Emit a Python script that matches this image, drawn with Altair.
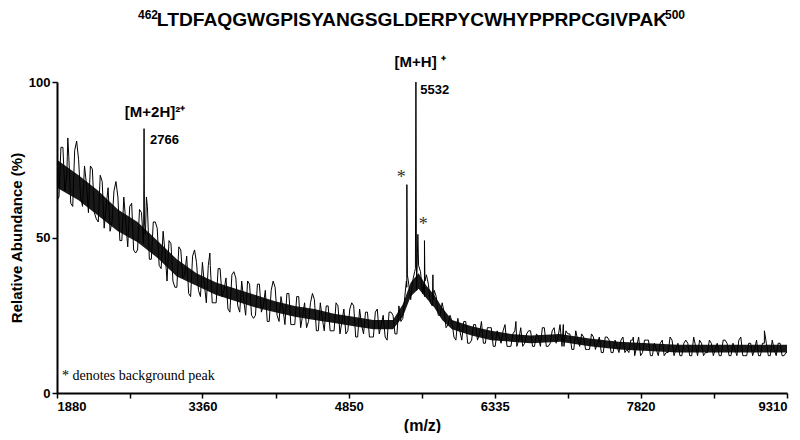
import altair as alt
import pandas as pd

# ---- data ----
# noise trace sampled every 20 m/z: series A at 1880+40i, series B at 1900+40i
NOISE_STEP = 40
A_START = 1880
noise_a = [
    62, 79, 65, 76, 60, 81, 63, 73, 58, 72,
    56, 70, 53, 66, 55, 68, 49, 63, 47, 61,
    45, 59, 48, 60, 43, 55, 41, 52, 36, 48,
    34, 47, 37, 44, 31, 46, 33, 42, 29, 41,
    29, 40, 31, 37, 26, 39, 28, 36, 25, 35,
    24, 35, 26, 33, 23, 36, 25, 31, 22, 32,
    22, 31, 21, 29, 23, 32, 20, 29, 20, 28,
    20, 29, 19, 27, 20, 29, 18, 27, 19, 26,
    18, 26, 19, 25, 17, 26, 19, 28, 24, 34,
    30, 39, 41, 32, 38, 29, 33, 25, 29, 21,
    25, 18, 24, 17, 23, 16, 22, 17, 23, 16,
    21, 15, 20, 16, 22, 15, 19, 15, 21, 16,
    20, 15, 19, 15, 21, 15, 20, 16, 22, 15,
    19, 14, 20, 15, 18, 14, 19, 14, 18, 13,
    18, 13, 17, 13, 18, 14, 17, 12, 18, 13,
    17, 12, 16, 12, 17, 13, 18, 12, 16, 12,
    17, 12, 18, 12, 16, 13, 17, 12, 16, 12,
    17, 12, 16, 12, 18, 12, 16, 12, 17, 12,
    16, 12, 17, 12, 16, 12,
]
B_START = 1900
noise_b = [
    63, 79, 70, 61, 78, 75, 60, 67, 73, 58,
    55, 68, 60, 52, 65, 63, 49, 55, 60, 46,
    46, 58, 51, 43, 55, 53, 40, 45, 49, 36,
    34, 46, 38, 32, 44, 42, 31, 35, 41, 29,
    29, 40, 33, 27, 38, 37, 26, 30, 36, 25,
    25, 35, 28, 23, 33, 34, 23, 27, 32, 22,
    22, 31, 25, 21, 29, 30, 20, 24, 28, 20,
    20, 28, 23, 19, 27, 28, 18, 22, 26, 18,
    18, 27, 22, 18, 26, 25, 19, 23, 31, 35,
    36, 33, 39, 31, 35, 28, 31, 25, 26, 22,
    23, 17, 20, 23, 16, 17, 22, 19, 16, 21,
    21, 15, 18, 20, 15, 15, 20, 17, 15, 19,
    20, 15, 18, 21, 15, 16, 21, 18, 15, 20,
    19, 14, 17, 19, 14, 14, 18, 16, 13, 18,
    17, 13, 15, 17, 13, 13, 17, 15, 12, 17,
    17, 12, 14, 16, 12, 13, 17, 14, 12, 16,
    16, 12, 15, 17, 12, 13, 16, 14, 12, 17,
    16, 12, 14, 17, 12, 12, 16, 14, 12, 16,
    16, 12, 14, 16, 12, 13,
]
noise_a_mz = [A_START + NOISE_STEP * i for i in range(len(noise_a))]
noise_b_mz = [B_START + NOISE_STEP * i for i in range(len(noise_b))]

spike_mz = [1990, 2762, 2766, 2770, 2790, 3436, 5436, 5441, 5446, 5528, 5533, 5538,
            5553, 5615, 5620, 5625, 5701, 5706, 5711, 6551, 7033, 7745, 9080, 9160, 9310]
spike_val = [82, 52, 85, 55, 63, 45, 36, 67, 38, 40, 100, 45,
             51, 35, 49, 36, 30, 38, 30, 23, 22, 18, 20, 17, 13]

core_mz = [1880, 2100, 2300, 2500, 2700, 2900, 3100, 3300, 3500, 3700, 3900, 4100, 4300,
           4500, 4700, 4900, 5100, 5300, 5400, 5480, 5560, 5640, 5720, 5800, 5900, 6100,
           6300, 6500, 6700, 7000, 7300, 7600, 7900, 8200, 8500, 8800, 9100, 9310]
core_lo = [66, 62, 57, 52, 48.5, 43.5, 37.5, 34.5, 31.5, 29.5, 27.5, 26, 24.5,
           23.5, 22.5, 21.5, 20.5, 20.5, 24.5, 31, 33.5, 30.5, 27.5, 23.5, 20.5, 18.5,
           17, 16.5, 16, 16.5, 15, 14, 13.5, 13, 13, 13, 13, 13]
core_hi = [75, 70, 65, 59, 55, 49, 43, 38.5, 35.5, 33.5, 31.5, 29.5, 28,
           27, 25.5, 24.5, 23.5, 23.5, 28.5, 35.5, 38.5, 34.5, 31.5, 27.5, 23.5, 21.5,
           20, 19, 18.5, 19, 17.5, 16.5, 16, 15.5, 15.5, 15.5, 15.5, 15.5]

major_ticks = [1880, 3360, 4850, 6335, 7820, 9310]
all_ticks = [1880, 2620, 3360, 4105, 4850, 5592, 6335, 7077, 7820, 8565, 9310]
y_ticks = [0, 50, 100]

title_main = "LTDFAQGWGPISYANGSGLDERPYCWHYPPRPCGIVPAK"
title_start = "462"
title_end = "500"

ann_mz = [2878, 2827, 5577, 5577]
ann_val = [90.4, 81.4, 106.4, 97.4]
ann_text = ["[M+2H]²⁺", "2766", "[M+H] ⁺", "5532"]
ann_size = [15, 13, 15, 13]

star_mz = [5383, 5607]
star_val = [70, 55]

note_mz = [1931]
note_val = [5.5]
note_text = ["* denotes background peak"]

# ---- tables ----
spec = pd.DataFrame({
    "mz": noise_a_mz + noise_b_mz + spike_mz,
    "val": noise_a + noise_b + spike_val,
}).sort_values("mz", kind="stable")
core = pd.DataFrame({"mz": core_mz, "lo": core_lo, "hi": core_hi})
ann = pd.DataFrame({"mz": ann_mz, "val": ann_val, "text": ann_text, "size": ann_size})
stars = pd.DataFrame({"mz": star_mz, "val": star_val, "text": ["*", "*"]})
note = pd.DataFrame({"mz": note_mz, "val": note_val, "text": note_text})

FONT = "Liberation Sans"
x_scale = alt.Scale(domain=[1880, 9310], nice=False, zero=False)
y_scale = alt.Scale(domain=[0, 100], nice=False)

label_expr = "indexof([" + ",".join(str(v) for v in major_ticks) + "], datum.value) >= 0 ? datum.label : ''"

x_axis = alt.Axis(values=all_ticks, format="d", labelExpr=label_expr, labelFlush=True,
                  labelOverlap=False, title="(m/z)", grid=False, tickSize=5,
                  labelPadding=2, titlePadding=4)
y_axis = alt.Axis(values=y_ticks, title="Relative Abundance (%)", grid=False, tickSize=5,
                  labelPadding=2, titlePadding=4)

band = alt.Chart(core).mark_area(color="black", opacity=0.9).encode(
    x=alt.X("mz:Q", scale=x_scale, axis=x_axis),
    y=alt.Y("lo:Q", scale=y_scale, axis=y_axis),
    y2="hi:Q",
)

line = alt.Chart(spec).mark_line(color="black", strokeWidth=1.0).encode(
    x=alt.X("mz:Q", scale=x_scale),
    y=alt.Y("val:Q", scale=y_scale),
    order="mz:Q",
)

ann_big = alt.Chart(ann[ann["size"] == 15]).mark_text(
    font=FONT, fontWeight="bold", fontSize=15, color="black", baseline="middle", align="center"
).encode(x="mz:Q", y="val:Q", text="text:N")

ann_small = alt.Chart(ann[ann["size"] == 13]).mark_text(
    font=FONT, fontWeight="bold", fontSize=13, color="black", baseline="middle", align="left"
).encode(x="mz:Q", y="val:Q", text="text:N")

star_txt = alt.Chart(stars).mark_text(
    font="Liberation Serif", fontSize=18, color="#333333", baseline="middle", align="center", dy=3
).encode(x="mz:Q", y="val:Q", text="text:N")

note_txt = alt.Chart(note).mark_text(
    font="Liberation Serif", fontSize=14, color="black", baseline="middle", align="left"
).encode(x="mz:Q", y="val:Q", text="text:N")

# title pieces (main sequence with superscript residue numbers)
t_main = alt.Chart(pd.DataFrame({"t": [title_main]})).mark_text(
    font=FONT, fontWeight="bold", fontSize=19.2, color="black", align="center", baseline="alphabetic"
).encode(x=alt.value(355), y=alt.value(-56), text="t:N")
t_start = alt.Chart(pd.DataFrame({"t": [title_start]})).mark_text(
    font=FONT, fontWeight="bold", fontSize=12, color="black", align="right", baseline="alphabetic"
).encode(x=alt.value(101), y=alt.value(-63), text="t:N")
t_end = alt.Chart(pd.DataFrame({"t": [title_end]})).mark_text(
    font=FONT, fontWeight="bold", fontSize=12, color="black", align="left", baseline="alphabetic"
).encode(x=alt.value(608), y=alt.value(-63), text="t:N")

chart = alt.layer(band, line, ann_big, ann_small, star_txt, note_txt, t_main, t_start, t_end).properties(
    width=730,
    height=311,
    autosize=alt.AutoSizeParams(type="none"),
    padding={"left": 49, "top": 74, "right": 5, "bottom": 40},
).configure_view(stroke=None).configure_axis(
    domainColor="black", domainWidth=2, tickColor="black", tickWidth=1.5,
    labelFont=FONT, labelFontWeight="bold", labelFontSize=13, labelColor="black",
    titleFont=FONT, titleFontWeight="bold", titleFontSize=15, titleColor="black",
).configure_axisX(titleFontSize=16)

chart.save("out.html", embed_options={"renderer": "svg", "actions": False})
